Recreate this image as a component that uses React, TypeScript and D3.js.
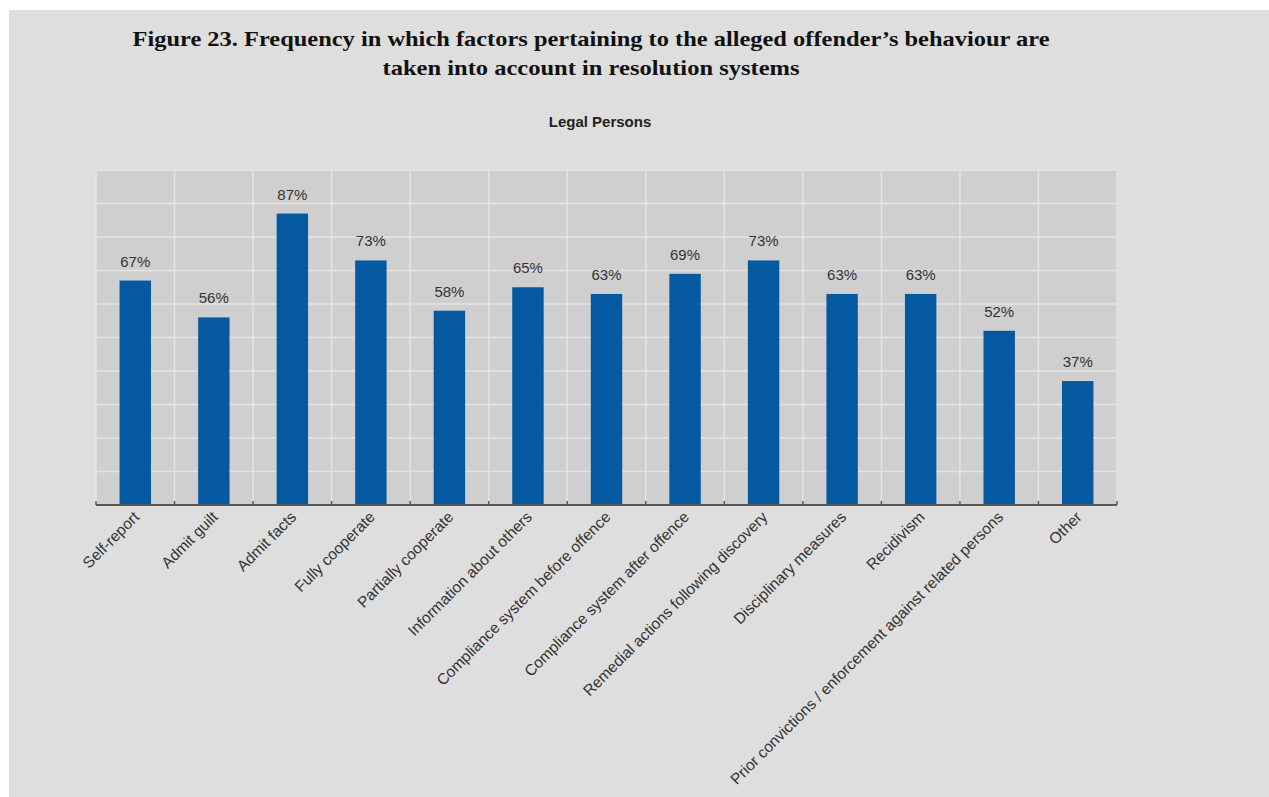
import React from "react";
import * as d3 from "d3";

const categories: string[] = [
  "Self-report",
  "Admit guilt",
  "Admit facts",
  "Fully cooperate",
  "Partially cooperate",
  "Information about others",
  "Compliance system before offence",
  "Compliance system after offence",
  "Remedial actions following  discovery",
  "Disciplinary measures",
  "Recidivism",
  "Prior convictions / enforcement  against related persons",
  "Other",
];

const values: number[] = [67, 56, 87, 73, 58, 65, 63, 69, 73, 63, 63, 52, 37];

const yTicks: number[] = [0, 10, 20, 30, 40, 50, 60, 70, 80, 90, 100];

const titleLines: string[] = [
  "Figure 23. Frequency in which factors pertaining to the alleged offender\u2019s behaviour are",
  "taken into account in resolution systems",
];
const titleWidths: number[] = [917, 417];
const subtitle = "Legal Persons";

const W = 1269;
const H = 797;
const plot = { left: 96, right: 1117, top: 170, bottom: 505 };

export default function App() {
  const x = d3
    .scaleBand<string>()
    .domain(categories)
    .range([plot.left, plot.right])
    .paddingInner(0)
    .paddingOuter(0);
  const y = d3.scaleLinear().domain([0, 100]).range([plot.bottom, plot.top]);
  const bw = x.bandwidth();
  const barW = bw * 0.4;
  const boundaries = categories.map((c) => x(c)!).concat([plot.right]);

  return (
    <svg
      width={W}
      height={H}
      style={{ position: "absolute", left: 0, top: 0, display: "block" }}
    >
      <rect x={0} y={0} width={W} height={H} fill="#ffffff" />
      <rect x={9} y={10} width={W - 9} height={H - 10} fill="#dedede" />

      {titleLines.map((t, i) => (
        <text
          key={i}
          x={591}
          y={46 + i * 29}
          textAnchor="middle"
          fontFamily="'Liberation Serif', 'Times New Roman', serif"
          fontWeight="bold"
          fontSize={22}
          textLength={titleWidths[i]}
          lengthAdjust="spacingAndGlyphs"
          fill="#111"
        >
          {t}
        </text>
      ))}
      <text
        x={600}
        y={127}
        textAnchor="middle"
        fontFamily="'Liberation Sans', Arial, sans-serif"
        fontWeight="bold"
        fontSize={15}
        fill="#222"
      >
        {subtitle}
      </text>

      <rect
        x={plot.left}
        y={plot.top}
        width={plot.right - plot.left}
        height={plot.bottom - plot.top}
        fill="#cfcfcf"
      />
      {yTicks.map((t) => (
        <line
          key={"h" + t}
          x1={plot.left}
          x2={plot.right}
          y1={y(t)}
          y2={y(t)}
          stroke="#e4e4e4"
          strokeWidth={1.5}
        />
      ))}
      {boundaries.map((b, i) => (
        <line
          key={"v" + i}
          x1={b}
          x2={b}
          y1={plot.top}
          y2={plot.bottom}
          stroke="#e4e4e4"
          strokeWidth={1.5}
        />
      ))}

      {categories.map((c, i) => {
        const cx = x(c)! + bw / 2;
        return (
          <g key={c}>
            <rect
              x={cx - barW / 2}
              y={y(values[i])}
              width={barW}
              height={y(0) - y(values[i])}
              fill="#0559a1"
            />
            <text
              x={cx}
              y={y(values[i]) - 14}
              textAnchor="middle"
              fontFamily="'Liberation Sans', Arial, sans-serif"
              fontSize={15}
              fill="#333"
            >
              {values[i] + "%"}
            </text>
            <text
              transform={`translate(${cx + 5},${plot.bottom + 13}) rotate(-45)`}
              textAnchor="end"
              fontFamily="'Liberation Sans', Arial, sans-serif"
              fontSize={15.5}
              fill="#333"
            >
              {c}
            </text>
          </g>
        );
      })}

      <line
        x1={plot.left}
        x2={plot.right}
        y1={plot.bottom}
        y2={plot.bottom}
        stroke="#5a5a5a"
        strokeWidth={2}
      />
      {boundaries.map((b, i) => (
        <line
          key={"t" + i}
          x1={b}
          x2={b}
          y1={plot.bottom}
          y2={plot.bottom - 4}
          stroke="#5a5a5a"
          strokeWidth={1.5}
        />
      ))}
    </svg>
  );
}
